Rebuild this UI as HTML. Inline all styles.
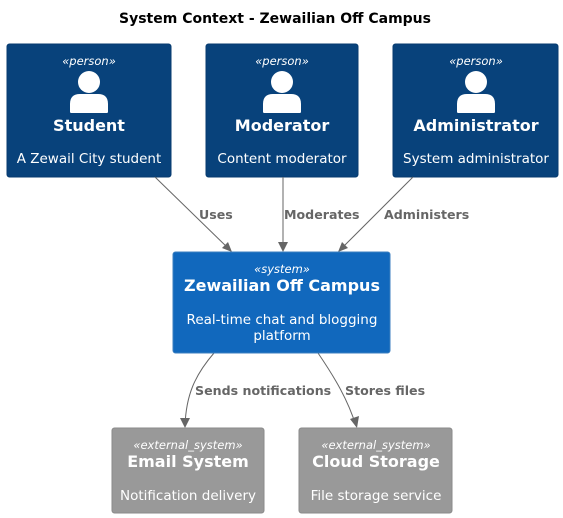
<!DOCTYPE html>
<html><head><meta charset="utf-8"><style>
html,body{margin:0;padding:0;background:#fff;width:563px;height:518px;overflow:hidden}
svg{display:block}
text{font-family:"DejaVu Sans","Liberation Sans",sans-serif}
</style></head><body>
<svg width="563" height="518" viewBox="0 0 563 518" xmlns="http://www.w3.org/2000/svg">
<defs>
<g id="person" fill="#fff">
<circle cx="0" cy="0" r="11"/>
<path d="M-19,30 L-19,22 Q-19,12 -9,12 L9,12 Q19,12 19,22 L19,30 Q19,31 17,31 L-17,31 Q-19,31 -19,30 Z"/>
</g>
</defs>
<text x="275" y="23" text-anchor="middle" font-size="14" font-weight="bold" fill="#000">System Context - Zewailian Off Campus</text>

<rect x="7" y="44" width="164" height="133" rx="2.5" fill="#08427b" stroke="#073b6f"/>
<text x="89" y="65" text-anchor="middle" font-size="11.5" font-style="italic" fill="#fff">«person»</text>
<use href="#person" x="89" y="82"/>
<text x="89" y="131" text-anchor="middle" font-size="16" font-weight="bold" fill="#fff">Student</text>
<text x="89" y="163" text-anchor="middle" font-size="13.5" fill="#fff">A Zewail City student</text>

<rect x="206" y="44" width="152" height="133" rx="2.5" fill="#08427b" stroke="#073b6f"/>
<text x="282" y="65" text-anchor="middle" font-size="11.5" font-style="italic" fill="#fff">«person»</text>
<use href="#person" x="282" y="82"/>
<text x="282" y="131" text-anchor="middle" font-size="16" font-weight="bold" fill="#fff">Moderator</text>
<text x="282" y="163" text-anchor="middle" font-size="13.5" fill="#fff">Content moderator</text>

<rect x="393" y="44" width="165" height="133" rx="2.5" fill="#08427b" stroke="#073b6f"/>
<text x="476" y="65" text-anchor="middle" font-size="11.5" font-style="italic" fill="#fff">«person»</text>
<use href="#person" x="476" y="82"/>
<text x="476" y="131" text-anchor="middle" font-size="16" font-weight="bold" fill="#fff">Administrator</text>
<text x="476" y="163" text-anchor="middle" font-size="13.5" fill="#fff">System administrator</text>

<g stroke="#666" fill="none" stroke-width="1">
<line x1="155" y1="177" x2="230" y2="250"/>
<line x1="283" y1="177" x2="283" y2="250"/>
<line x1="413" y1="177" x2="340" y2="250"/>
<path d="M214,353 C195,375 186,395 185,426"/>
<path d="M318,353 C335,378 348,400 356,426"/>
</g>
<g fill="#666">
<polygon points="232,252 222,248 228,242"/>
<polygon points="283,252 278,242 288,242"/>
<polygon points="338,252 342,242 348,248"/>
<polygon points="185,428 180,418 190,418"/>
<polygon points="357,428 350,419 359,416"/>
</g>
<g font-size="12.6" font-weight="bold" fill="#666">
<text x="199" y="219">Uses</text>
<text x="284" y="219">Moderates</text>
<text x="384" y="219">Administers</text>
<text x="195" y="395">Sends notifications</text>
<text x="345" y="395">Stores files</text>
</g>

<rect x="173" y="252" width="217" height="101" rx="2.5" fill="#1168bd" stroke="#3c7fc0"/>
<text x="282" y="273" text-anchor="middle" font-size="11.5" font-style="italic" fill="#fff">«system»</text>
<text x="282" y="291" text-anchor="middle" font-size="16" font-weight="bold" fill="#fff">Zewailian Off Campus</text>
<text x="282" y="324" text-anchor="middle" font-size="13.5" fill="#fff">Real-time chat and blogging</text>
<text x="282" y="340" text-anchor="middle" font-size="13.5" fill="#fff">platform</text>

<rect x="112" y="428" width="152" height="85" rx="2.5" fill="#999" stroke="#8a8a8a"/>
<text x="188" y="449" text-anchor="middle" font-size="11.5" font-style="italic" fill="#fff">«external_system»</text>
<text x="188" y="467" text-anchor="middle" font-size="16" font-weight="bold" fill="#fff">Email System</text>
<text x="188" y="500" text-anchor="middle" font-size="13.5" fill="#fff">Notification delivery</text>

<rect x="299" y="428" width="153" height="85" rx="2.5" fill="#999" stroke="#8a8a8a"/>
<text x="376" y="449" text-anchor="middle" font-size="11.5" font-style="italic" fill="#fff">«external_system»</text>
<text x="376" y="467" text-anchor="middle" font-size="16" font-weight="bold" fill="#fff">Cloud Storage</text>
<text x="376" y="500" text-anchor="middle" font-size="13.5" fill="#fff">File storage service</text>
</svg>
</body></html>
